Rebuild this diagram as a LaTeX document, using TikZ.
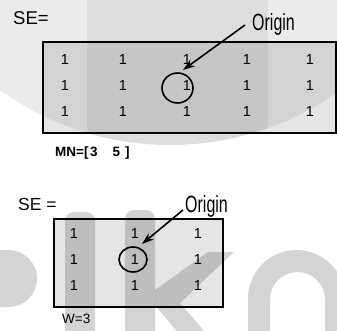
\documentclass[tikz,border=0pt]{standalone}
\usepackage{fontspec}
\setmainfont{Liberation Sans}
\newfontfamily\narrowfont[FakeStretch=0.68]{Liberation Sans}
\usetikzlibrary{arrows.meta,shapes.geometric}
\definecolor{boxfill}{gray}{0.9}
\tikzset{
  sebox/.style={line width=1.6pt, draw=black},
  one/.style={font=\fontsize{14.5}{14}\selectfont, anchor=base, inner sep=0pt},
  lbl/.style={anchor=base west, inner sep=0pt},
  origin/.style={lbl, font=\narrowfont\fontsize{23.5}{24}\selectfont},
  ring/.style={draw, ellipse, line width=1.6pt, inner sep=0pt},
  pointer/.style={line width=1.6pt, -{Stealth[length=12pt,width=8pt]}},
  mark/.style={fill=black, fill opacity=#1},
}
\begin{document}
\begin{tikzpicture}[x=1pt, y=1pt, yscale=-1]
\useasboundingbox (0,0) rectangle (337,331);
\clip (0,0) rectangle (337,331);

% box fills
\fill[boxfill] (43,42) rectangle (336,133);
\fill[boxfill] (54,219) rectangle (223,307);

% background emblem
\fill[mark=0.08] (170,-145) circle (290);
\begin{scope}
  \clip (170,-145) circle (290);
  \fill[mark=0.06] (87,-10) rectangle (268,340);
\end{scope}
\fill[mark=0.17] (-5,250) -- (8.5,250) arc (-90:90:28.5) -- (-5,307) -- cycle;
\fill[mark=0.17, rounded corners=9pt] (65,212) rectangle (95,345);
\fill[mark=0.17, rounded corners=9pt] (125,210) rectangle (155,345);
\fill[mark=0.17] (208,252) -- (234,252) -- (180,303) -- (212,340) -- (184,340)
  -- (155,305) -- (155,290) -- cycle;
\fill[mark=0.17, even odd rule]
  (248,345) -- (248,298.5) arc (180:360:48.5) -- (345,345) -- cycle
  (270,345) -- (270,299.5) arc (180:360:27.5) -- (325,345) -- cycle;

% upper structuring element: 3 x 5
\draw[sebox] (43,42) rectangle (336,133);
\node[lbl, font=\fontsize{18.5}{18}\selectfont] (se1) at (13,25) {SE=};
\foreach \c [count=\i] in {65,123,187,247,310}
  \foreach \r [count=\j] in {65,91,117}
    \node[one] (a\j\i) at (\c,\r) {1};
\node[ring, minimum width=31pt, minimum height=30pt] (c1) at (177.5,88) {};
\node[origin] (o1) at (252,30.5) {Origin};
\coordinate (t1) at (245,25);
\coordinate (h1) at (183,70);
\draw[pointer] (t1) -- (h1);
\node[lbl, font=\bfseries\fontsize{13.5}{13}\selectfont] (mn) at (55,157)
  {MN=[\hspace{1.5pt}3\hspace{15pt}5\hspace{5pt}]};

% lower structuring element: width 3
\draw[sebox] (54,219) rectangle (223,307);
\node[lbl, font=\fontsize{17.5}{17}\selectfont] (se2) at (18,210) {SE =};
\foreach \c [count=\i] in {74,135,198}
  \foreach \r [count=\j] in {238,264,290}
    \node[one] (b\j\i) at (\c,\r) {1};
\node[ring, minimum width=28pt, minimum height=25pt] (c2) at (133,259.5) {};
\node[origin] (o2) at (185,212) {Origin};
\coordinate (t2) at (183,210);
\coordinate (h2) at (142,244);
\draw[pointer] (t2) -- (h2);
\node[lbl, font=\fontsize{13.5}{13}\selectfont] (w) at (62,323) {W=3};
\end{tikzpicture}
\end{document}
